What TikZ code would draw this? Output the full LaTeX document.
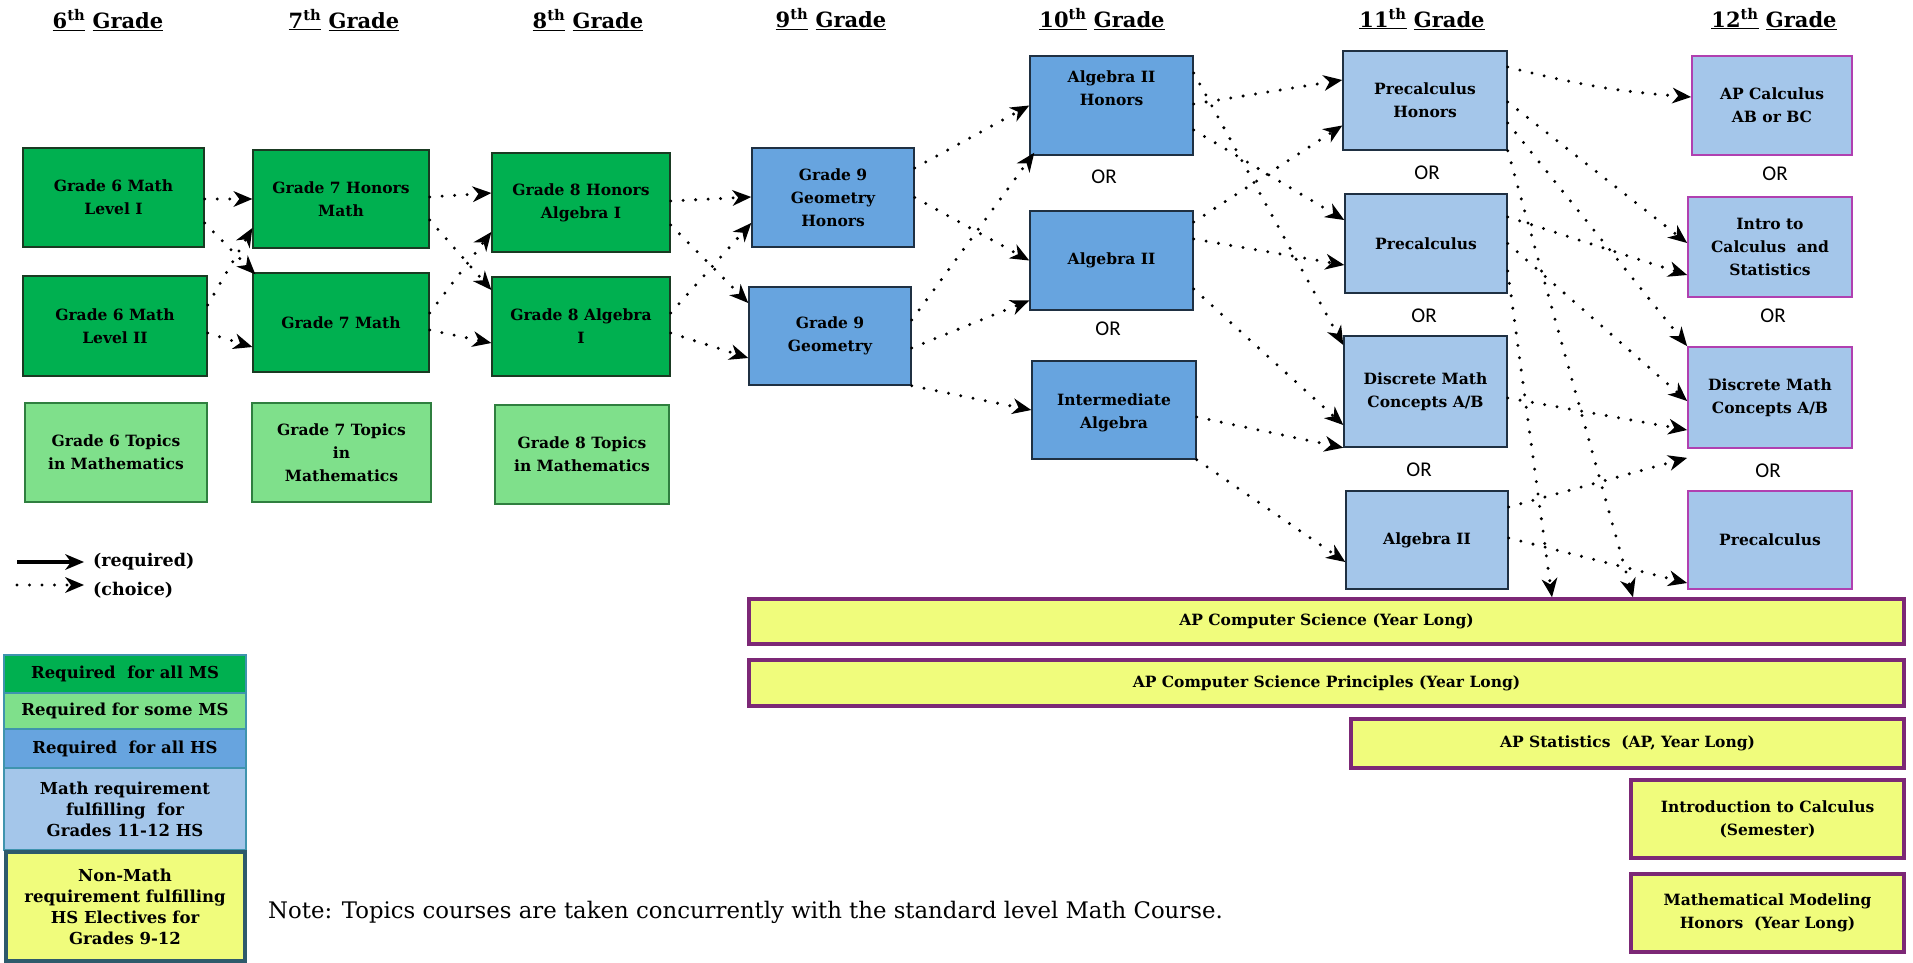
\documentclass[tikz,border=0pt]{standalone}
\usepackage{fontspec}
\setmainfont{DejaVu Serif}
\newfontfamily\orfont{Carlito}
\usetikzlibrary{arrows.meta}
\definecolor{dkgreen}{HTML}{00B050}
\definecolor{ltgreen}{HTML}{7FE08B}
\definecolor{hsblue}{HTML}{67A4DF}
\definecolor{ltblue}{HTML}{A4C6EA}
\definecolor{elyellow}{HTML}{F0FC7C}
\definecolor{grnborder}{HTML}{1A3A22}
\definecolor{topborder}{HTML}{2F7F3F}
\definecolor{navyb}{HTML}{1F3042}
\definecolor{magb}{HTML}{B040B0}
\definecolor{purpb}{HTML}{7C2876}
\definecolor{legb}{HTML}{3F94AE}
\definecolor{legdark}{HTML}{2E5A6B}
\tikzset{
  box/.style={rectangle, inner sep=0pt, align=center, text=black,
    font=\fontsize{15.5}{23}\selectfont\bfseries},
  msreq/.style={box, fill=dkgreen, draw=grnborder, line width=1.3pt},
  mstop/.style={box, fill=ltgreen, draw=topborder, line width=1.3pt},
  hsreq/.style={box, fill=hsblue, draw=navyb, line width=1.5pt},
  hsful/.style={box, fill=ltblue, draw=navyb, line width=1.5pt},
  hsopt/.style={box, fill=ltblue, draw=magb, line width=1.8pt},
  elective/.style={box, fill=elyellow, draw=purpb, line width=3.5pt},
  legbox/.style={box, draw=legb, line width=1.5pt, minimum width=242pt,
    font=\fontsize{16.5}{21}\selectfont\bfseries},
  heading/.style={inner sep=0pt, font=\fontsize{21}{25}\selectfont\bfseries},
  ortext/.style={inner sep=0pt, font=\orfont\fontsize{21}{24}\selectfont},
  tipstyle/.style={-{Stealth[length=19pt,width=16pt,inset=6pt,line width=0pt,round=false]}},
  choice/.style={line width=3.3pt, dash pattern=on 0pt off 12.5pt, line cap=round, tipstyle},
  required/.style={line width=3.3pt, tipstyle}
}
\begin{document}
\begin{tikzpicture}[x=1pt,y=-1pt]
\useasboundingbox (0,0) rectangle (1913,963);

% headings
\node[heading] (h6) at (108,20) {\underline{6\textsuperscript{th}} \underline{Grade}};
\node[heading] (h7) at (344,20) {\underline{7\textsuperscript{th}} \underline{Grade}};
\node[heading] (h8) at (588,20) {\underline{8\textsuperscript{th}} \underline{Grade}};
\node[heading] (h9) at (831,19) {\underline{9\textsuperscript{th}} \underline{Grade}};
\node[heading] (h10) at (1102,19) {\underline{10\textsuperscript{th}} \underline{Grade}};
\node[heading] (h11) at (1422,19) {\underline{11\textsuperscript{th}} \underline{Grade}};
\node[heading] (h12) at (1774,19) {\underline{12\textsuperscript{th}} \underline{Grade}};

% middle school
\node[msreq, minimum width=181pt, minimum height=99pt] (G6L1) at (113.5,197.5) {Grade 6 Math\\Level I};
\node[msreq, minimum width=184pt, minimum height=100pt] (G6L2) at (115,326) {Grade 6 Math\\Level II};
\node[mstop, minimum width=182pt, minimum height=99pt] (G6T) at (116,452.5) {Grade 6 Topics\\in Mathematics};
\node[msreq, minimum width=176pt, minimum height=98pt] (G7H) at (341,199) {Grade 7 Honors\\Math};
\node[msreq, minimum width=176pt, minimum height=99pt] (G7) at (341,322.5) {Grade 7 Math};
\node[mstop, minimum width=179pt, minimum height=99pt] (G7T) at (341.5,452.5) {Grade 7 Topics\\in\\Mathematics};
\node[msreq, minimum width=178pt, minimum height=99pt] (G8H) at (581,202.5) {Grade 8 Honors\\Algebra I};
\node[msreq, minimum width=178pt, minimum height=99pt] (G8) at (581,326.5) {Grade 8 Algebra\\I};
\node[mstop, minimum width=174pt, minimum height=99pt] (G8T) at (582,454.5) {Grade 8 Topics\\in Mathematics};

% high school 9-10
\node[hsreq, minimum width=162pt, minimum height=99pt] (G9H) at (833,197.5) {Grade 9\\Geometry\\Honors};
\node[hsreq, minimum width=162pt, minimum height=98pt] (G9) at (830,336) {Grade 9\\Geometry};
\node[hsreq, minimum width=163pt, minimum height=99pt] (A2H) at (1111.5,105.5) {Algebra II\\Honors\\[12pt]\mbox{}};
\node[hsreq, minimum width=163pt, minimum height=99pt] (A2) at (1111.5,260.5) {Algebra II};
\node[hsreq, minimum width=164pt, minimum height=98pt] (IA) at (1114,410) {\mbox{}\\[-6pt]Intermediate\\Algebra};
\node[ortext] (or10a) at (1104,177) {OR};
\node[ortext] (or10b) at (1108,329) {OR};

% 11th grade
\node[hsful, minimum width=164pt, minimum height=99pt] (PCH) at (1425,100.5) {Precalculus\\Honors};
\node[hsful, minimum width=162pt, minimum height=99pt] (PC) at (1426,243.5) {Precalculus};
\node[hsful, minimum width=163pt, minimum height=111pt] (DM11) at (1425.5,391.5) {Discrete Math\\Concepts A/B};
\node[hsful, minimum width=162pt, minimum height=98pt] (A211) at (1427,540) {Algebra II};
\node[ortext] (or11a) at (1427,173) {OR};
\node[ortext] (or11b) at (1424,316) {OR};
\node[ortext] (or11c) at (1419,470) {OR};

% 12th grade
\node[hsopt, minimum width=160pt, minimum height=99pt] (APC) at (1772,105.5) {AP Calculus\\AB or BC};
\node[hsopt, minimum width=164pt, minimum height=100pt] (ICS) at (1770,247) {Intro to\\Calculus~~and\\Statistics};
\node[hsopt, minimum width=164pt, minimum height=101pt] (DM12) at (1770,397.5) {Discrete Math\\Concepts A/B};
\node[hsopt, minimum width=164pt, minimum height=98pt] (PC12) at (1770,540) {Precalculus};
\node[ortext] (or12a) at (1775,174) {OR};
\node[ortext] (or12b) at (1773,316) {OR};
\node[ortext] (or12c) at (1768,471) {OR};

% electives
\node[elective, minimum width=1155pt, minimum height=45pt] (APCS) at (1326.5,621.5) {AP Computer Science (Year Long)};
\node[elective, minimum width=1155pt, minimum height=46pt] (APCSP) at (1326.5,683) {AP Computer Science Principles (Year Long)};
\node[elective, minimum width=553pt, minimum height=49pt] (APSTAT) at (1627.5,743.5) {AP Statistics~~(AP, Year Long)};
\node[elective, minimum width=273pt, minimum height=78pt] (ICALC) at (1767.5,819) {Introduction to Calculus\\(Semester)};
\node[elective, minimum width=273pt, minimum height=78pt] (MMOD) at (1767.5,913) {Mathematical Modeling\\Honors~~(Year Long)};

% legend arrows
\coordinate (lreqA) at (17,562);
\coordinate (lreqB) at (84,562);
\coordinate (lchoA) at (17,585);
\coordinate (lchoB) at (84,585);
\draw[required] (lreqA) -- (lreqB);
\draw[choice] (lchoA) -- (lchoB);
\node[anchor=west, inner sep=0pt, font=\fontsize{17.5}{21}\selectfont\bfseries] (lreqT) at (93,562) {(required)};
\node[anchor=west, inner sep=0pt, font=\fontsize{17.5}{21}\selectfont\bfseries] (lchoT) at (93,590) {(choice)};

% legend boxes
\node[legbox, fill=dkgreen, minimum height=38pt] (LG1) at (125,674) {Required~~for all MS};
\node[legbox, fill=ltgreen, minimum height=36pt] (LG2) at (125,711) {Required for some MS};
\node[legbox, fill=hsblue, minimum height=39pt] (LG3) at (125,748.5) {Required~~for all HS};
\node[legbox, fill=ltblue, minimum height=82pt] (LG4) at (125,809) {Math requirement\\fulfilling~~for\\Grades 11-12 HS};
\node[legbox, fill=elyellow, draw=legdark, line width=4pt, minimum width=239pt, minimum height=109pt] (LG5) at (125,906.5) {Non-Math\\requirement fulfilling\\HS Electives for\\Grades 9-12};

\node[anchor=base west, inner sep=0pt, font=\fontsize{22.8}{26}\selectfont] (note) at (268,918) {Note: Topics courses are taken concurrently with the standard level Math Course.};

% connectors grade 6 -> 7
\draw[choice] ([yshift=-1.5pt]G6L1.east) -- (G7H.west);
\draw[choice] ([yshift=-25.5pt]G6L1.east) -- ([xshift=3pt,yshift=-2pt]G7.north west);
\draw[choice] ([yshift=21pt]G6L2.east) -- ([yshift=-29pt]G7H.west);
\draw[choice] ([yshift=-7pt]G6L2.east) -- ([yshift=-24.5pt]G7.west);
% 7 -> 8
\draw[choice] ([yshift=2pt]G7H.east) -- ([yshift=9.5pt]G8H.west);
\draw[choice] ([yshift=-21pt]G7H.east) -- ([yshift=36.5pt]G8.west);
\draw[choice] ([yshift=9.5pt]G7.east) -- ([yshift=-29.5pt]G8H.west);
\draw[choice] ([yshift=-7.5pt]G7.east) -- ([yshift=-16.5pt]G8.west);
% 8 -> 9
\draw[choice] ([yshift=1.5pt]G8H.east) -- ([yshift=0.5pt]G9H.west);
\draw[choice] ([yshift=-22.5pt]G8H.east) -- ([yshift=33pt]G9.west);
\draw[choice] ([yshift=13.5pt]G8.east) -- ([yshift=-25.5pt]G9H.west);
\draw[choice] ([yshift=-6.5pt]G8.east) -- ([yshift=-22pt]G9.west);
% 9 -> 10
\draw[choice] ([yshift=29.5pt]G9H.east) -- (A2H.west);
\draw[choice] (G9H.east) -- (A2.west);
\draw[choice] ([yshift=16pt]G9.east) -- ([xshift=5pt,yshift=3pt]A2H.south west);
\draw[choice] ([yshift=-12pt]G9.east) -- ([yshift=-40pt]A2.west);
\draw[choice] (G9.south east) -- (IA.west);
% 10 -> 11
\draw[choice] ([yshift=1.5pt]A2H.east) -- ([yshift=20.5pt]PCH.west);
\draw[choice] ([yshift=-24.5pt]A2H.east) -- ([yshift=23.5pt]PC.west);
\draw[choice] ([yshift=32.5pt]A2H.east) -- ([yshift=46.5pt]DM11.west);
\draw[choice] ([yshift=38.5pt]A2.east) -- ([yshift=-25pt]PCH.west);
\draw[choice] ([yshift=21.5pt]A2.east) -- ([yshift=-21.5pt]PC.west);
\draw[choice] ([yshift=-28.5pt]A2.east) -- ([yshift=-33.5pt]DM11.west);
\draw[choice] ([yshift=-7pt]IA.east) -- (DM11.south west);
\draw[choice] (IA.south east) -- ([yshift=-22pt]A211.west);
% 11 -> 12
\draw[choice] ([yshift=33.5pt]PCH.east) to[bend right=5] ([yshift=8.5pt]APC.west);
\draw[choice] ([yshift=-1.5pt]PCH.east) -- ([yshift=4pt]ICS.west);
\draw[choice] ([yshift=-22.5pt]PCH.east) -- (DM12.north west);
\draw[choice] (PCH.south east) -- ([xshift=306.5pt]APCS.north);
\draw[choice] ([yshift=26.5pt]PC.east) -- ([yshift=-28pt]ICS.west);
\draw[choice] (PC.east) -- ([yshift=-3.5pt]DM12.west);
\draw[choice] ([yshift=-27.5pt]PC.east) -- ([xshift=225.5pt]APCS.north);
\draw[choice] ([yshift=-6.5pt]DM11.east) -- ([yshift=-32.5pt]DM12.west);
\draw[choice] ([yshift=33pt]A211.east) -- ([yshift=-9pt]DM12.south west);
\draw[choice] ([yshift=2pt]A211.east) -- ([yshift=-43pt]PC12.west);
\end{tikzpicture}
\end{document}
